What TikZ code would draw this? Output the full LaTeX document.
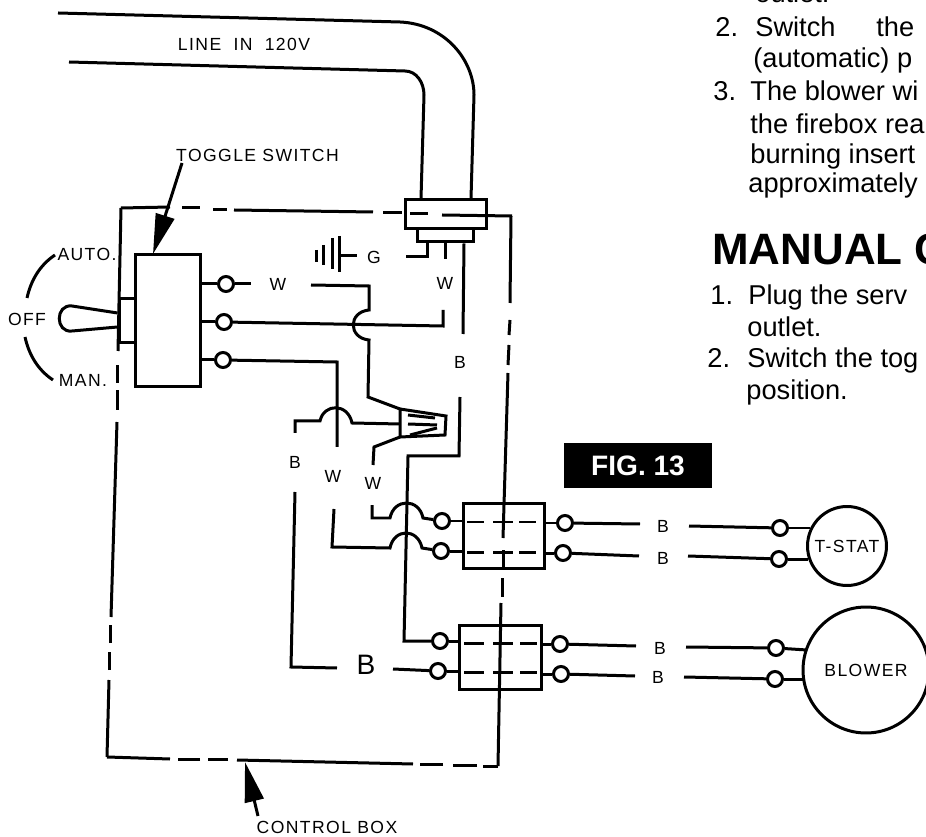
\documentclass[tikz,border=0pt]{standalone}
\usepackage{fontspec}
\setmainfont{Liberation Sans}
\newfontfamily\tagfont[LetterSpace=8]{Liberation Sans}
\usetikzlibrary{arrows.meta}

\begin{document}
\begin{tikzpicture}
    [
        x=0.02cm,y=-0.02cm,
        wire/.style={line width=0.06cm,},
        terminal/.style={circle, draw, fill=white, line width=0.06cm, inner sep=0pt, minimum size=0.3cm,},
        housing/.style={rectangle, draw, line width=0.06cm, inner sep=0pt,},
        device/.style={circle, draw, line width=0.06cm, inner sep=0pt, font=\tagfont\fontsize{10}{10}\selectfont,},
        tag/.style={inner sep=0pt, font=\tagfont\fontsize{10}{10}\selectfont,},
        body/.style={anchor=base west, inner sep=0pt, font=\fontsize{15.5}{15.5}\selectfont,},
        pointer/.style={line width=0.06cm, -{Triangle[length=0.8cm,width=0.38cm]},},
    ]

    \useasboundingbox (0,0) rectangle (926,837);

    % page text
    \node (outleta) at (755,3)     [body] {outlet.};
    \node (numa)    at (715,37)    [body] {2.};
    \node (texta)   at (755,37)    [body] {Switch};
    \node (textb)   at (876,37)    [body] {the};
    \node (textc)   at (753,68)    [body] {(automatic) p};
    \node (numb)    at (713,101)   [body] {3.};
    \node (textd)   at (750,101)   [body] {The blower wi};
    \node (texte)   at (750,134)   [body] {the firebox rea};
    \node (textf)   at (750,164)   [body] {burning insert};
    \node (textg)   at (748,193)   [body] {approximately};
    \node (head)    at (712,265)   [body, font=\bfseries\fontsize{25}{25}\selectfont] {MANUAL C};
    \node (numc)    at (710,305)   [body] {1.};
    \node (texth)   at (748,305)   [body] {Plug the serv};
    \node (outletb) at (747,337)   [body] {outlet.};
    \node (numd)    at (707,368)   [body] {2.};
    \node (texti)   at (747,368)   [body] {Switch the tog};
    \node (textj)   at (746,400)   [body] {position.};

    % figure plate
    \node (plate) at (638,465.5) [fill=black, text=white, inner sep=0pt, minimum width=2.96cm, minimum height=0.9cm,
        font=\bfseries\fontsize{16}{16}\selectfont] {FIG. 13};

    % line cord
    \node (plugtop)  at (446,214.5) [housing, minimum width=1.64cm, minimum height=0.58cm] {};
    \node (plugbase) at (445,235.5) [housing, minimum width=1.12cm, minimum height=0.26cm] {};
    \node (cordtag)  at (244,44)    [tag] {LINE\hspace{0.12cm} IN\hspace{0.12cm} 120V};
    \draw [wire] (58,13) -- (400,22) .. controls (445,24) and (474,60) .. (474,95) -- (plugtop.north -| 471,0);
    \draw [wire] (69,62) -- (405,71) .. controls (416,71) and (424,82) .. (424,95) -- (plugtop.north -| 421,0);

    % control box outline
    \foreach \xa/\ya/\xb/\yb in {
        121/208/170/207, 182/208/200/208, 213/210/227/210, 234/210/373/212, 383/213/402/213,
        410/214/428/214, 442/215/512/216, 511/216/510/303, 510/320/509/335, 509/345/508/365,
        508/373/503/538, 503/550/503/569, 502/578/502/597, 501/603/498/766, 498/766/483/766,
        477/765/453/765, 443/764/420/764, 413/764/237/760, 228/759/208/759, 200/759/178/759,
        170/759/107/757, 107/757/109/680, 109/670/109/652, 110/643/110/625, 111/617/117/422,
        117/410/117/390, 117/383/117/365, 118/351/121/208}
    {
        \draw [wire] (\xa,\ya) -- (\xb,\yb);
    }

    % toggle switch
    \node (toggle)  at (168,320.5) [housing, minimum width=1.3cm, minimum height=2.66cm] {};
    \node (bushing) at (127.5,320.5) [housing, minimum width=0.34cm, minimum height=0.9cm] {};
    \node (togtag)  at (257.5,155) [tag] {TOGGLE SWITCH};
    \node (auto)    at (87,254)    [tag] {AUTO.};
    \node (off)     at (27,319)    [tag] {OFF};
    \node (man)     at (83,380)    [tag] {MAN.};
    \coordinate (togtip) at (153,254);
    \draw [pointer] (182,163) -- (togtip);
    \draw [wire] (bushing.north west |- 0,313) -- (72,306) .. controls (55,304) and (55,333) .. (72,331) -- (bushing.north west |- 0,327);
    \draw [wire] (27,298) .. controls (31,280) and (40,265) .. (55,255);
    \draw [wire] (25,337) .. controls (29,355) and (38,370) .. (53,380);

    \node (wa) at (226,284) [terminal] {};
    \node (wb) at (224,322) [terminal] {};
    \node (bl) at (223,360) [terminal] {};

    % ground
    \node (gtag) at (374,257) [tag] {G};
    \node (wtagb) at (445,283) [tag] {W};
    \coordinate (gnd) at (339,256);
    \coordinate (gend) at (357,256);
    \draw [wire] (316,250) -- (316,262);
    \draw [wire] (323,245) -- (323,265);
    \draw [wire] (332,238) -- (332,269);
    \draw [wire] (339,236) -- (339,272);
    \draw [wire] (gnd) -- (gend);
    \draw [wire] (406,257) -- (427,257) -- (plugbase.south -| 427,0);
    \draw [wire] (plugbase.south -| 445,0) -- (445,259);

    % wire nut
    \coordinate (nuta) at (400,409);
    \coordinate (nutb) at (400,424);
    \coordinate (nutc) at (400,437);
    \draw [wire] (nuta) -- (446,416) -- (445,435) -- (nutc) -- cycle;
    \draw [wire] (408,415) -- (435,418);
    \draw [wire] (408,424) -- (437,425);
    \draw [wire] (410,435) -- (437,428);

    % wires from the switch
    \node (wtaga) at (278,284) [tag] {W};
    \draw [wire] (toggle.east |- wa) -- (wa);
    \draw [wire] (toggle.east |- wb) -- (wb);
    \draw [wire] (toggle.east |- bl) -- (bl);
    \draw [wire] (wa) -- (251,284);
    \draw [wire] (wb) -- (443,326) -- (443,310);
    \draw [wire] (311,285) -- (369,286) -- (369,310) .. controls (348,312) and (348,338) .. (369,340) -- (368,397) -- (nuta);
    \draw [wire] (bl) -- (337,362) -- (337,447);
    \draw [wire] (295,433) -- (295,421) -- (320,421) .. controls (324,403) and (348,403) .. (352,423) -- (nutb);
    \draw [wire] (nutc) -- (374,447) -- (373,465);

    % black line
    \node (btaga) at (460,362) [tag] {B};
    \node (btagb) at (295,462) [tag] {B};
    \node (wtagc) at (333,476) [tag] {W};
    \node (wtagd) at (373,483) [tag] {W};
    \draw [wire] (plugbase.south -| 464,0) -- (463,334);

    % upper connector
    \node (conna) at (504,536) [housing, minimum width=1.64cm, minimum height=1.32cm] {};
    \node (ala) at (442,521) [terminal] {};
    \node (alb) at (441,551) [terminal] {};
    \node (ara) at (565,523) [terminal] {};
    \node (arb) at (563,553) [terminal] {};

    % lower connector
    \node (connb) at (500.5,657.5) [housing, minimum width=1.66cm, minimum height=1.3cm] {};
    \node (bla) at (440,641) [terminal] {};
    \node (blb) at (438,671) [terminal] {};
    \node (bra) at (560,644) [terminal] {};
    \node (brb) at (561,674) [terminal] {};

    \foreach \xa/\xb in {467/484, 493/513, 519/536}
    {
        \draw [wire] (\xa,522) -- (\xb,522);
        \draw [wire] (\xa,552) -- (\xb,552);
    }
    \foreach \xa/\xb in {464/484, 493/513, 520/537}
    {
        \draw [wire] (\xa,643) -- (\xb,643);
        \draw [wire] (\xa,672) -- (\xb,672);
    }

    \draw [wire] (460,397) -- (459,456) -- (408,456) -- (404,641) -- (bla);
    \draw [wire] (372,505) -- (372,518) -- (390,518) .. controls (394,498) and (419,498) .. (423,518) -- (ala);
    \draw [wire] (334,509) -- (332,547) -- (390,548) .. controls (394,528) and (418,528) .. (422,548) -- (alb);
    \path [wire]
    (ala)   edge    (conna.west |- ala)
    (alb)   edge    (conna.west |- alb)
    (ara)   edge    (conna.east |- ara)
    (arb)   edge    (conna.east |- arb)
    (bla)   edge    (connb.west |- bla)
    (blb)   edge    (connb.west |- blb)
    (bra)   edge    (connb.east |- bra)
    (brb)   edge    (connb.east |- brb);

    \node (bbig) at (366,665) [tag, font=\fontsize{16}{16}\selectfont] {B};
    \draw [wire] (295,492) -- (291,667) -- (337,668);
    \draw [wire] (393,669) -- (blb);

    % thermostat and blower
    \node (tstat)  at (847,546) [device, minimum size=1.58cm] {T-STAT};
    \node (blower) at (866,670) [device, minimum size=2.52cm] {BLOWER};
    \node (tta) at (780,528) [terminal] {};
    \node (ttb) at (779,559) [terminal] {};
    \node (bwa) at (776,648) [terminal] {};
    \node (bwb) at (775,679) [terminal] {};
    \node (btc) at (663,526) [tag] {B};
    \node (btd) at (663,558) [tag] {B};
    \node (bte) at (660,648) [tag] {B};
    \node (btf) at (658,677) [tag] {B};

    \draw [wire] (ara) -- (640,524);
    \draw [wire] (arb) -- (639,556);
    \draw [wire] (bra) -- (636,646);
    \draw [wire] (brb) -- (635,676);
    \draw [wire] (689,526) -- (tta);
    \draw [wire] (688,556) -- (ttb);
    \draw [wire] (686,647) -- (bwa);
    \draw [wire] (684,677) -- (bwb);
    \path [wire]
    (tta)   edge    (810,528)
    (ttb)   edge    (808,559)
    (bwa)   edge    (807,650)
    (bwb)   edge    (805,679);

    % box pointer
    \node (boxtag) at (327,827) [tag] {CONTROL BOX};
    \coordinate (boxtip) at (245,762);
    \draw [pointer] (258,816) -- (boxtip);

\end{tikzpicture}
\end{document}
